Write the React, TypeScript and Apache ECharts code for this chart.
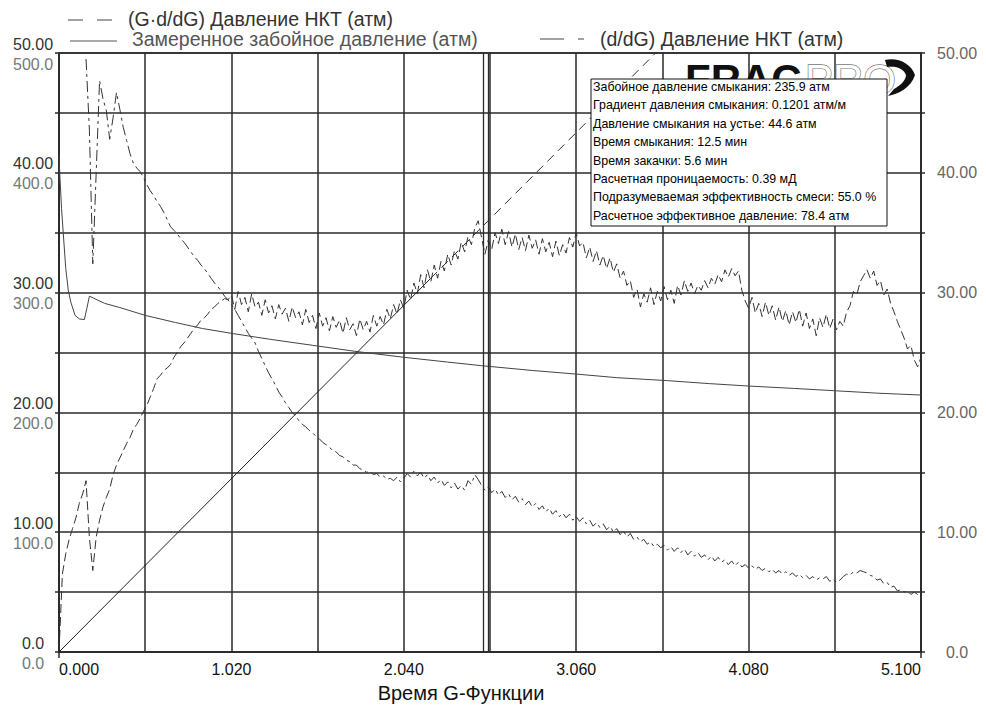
import React, { useEffect, useRef } from 'react';
import * as echarts from 'echarts';

const FONT = '"Liberation Sans", Arial, sans-serif';

// G-function grid step for the derivative curves
const G_STEP = 0.02;

// (G·d/dG) Давление НКТ, атм — one value per G_STEP starting at G = 0
const gTimesDerivative: number[] = [
  0, 6.5, 8.2, 9.4, 10.3, 11.2, 12.4, 13.2, 14.3, 9.5,
  6.8, 9.6, 11.0, 12.1, 12.9, 13.6, 14.8, 15.6, 16.2, 16.8,
  17.4, 17.9, 18.6, 19.0, 19.5, 20.1, 20.6, 21.3, 22.0, 22.8,
  23.1, 23.5, 23.7, 24.0, 24.6, 25.0, 25.5, 25.8, 26.2, 26.6,
  27.0, 27.3, 27.7, 27.9, 28.2, 28.6, 28.8, 29.1, 29.3, 29.5,
  29.4, 29.8, 28.6, 30.1, 29.0, 29.6, 28.4, 29.9, 28.8, 29.2,
  28.1, 29.4, 28.3, 28.9, 27.8, 29.0, 28.2, 28.7, 27.6, 28.8,
  27.9, 28.4, 27.3, 28.6, 27.5, 28.1, 27.0, 28.3, 27.2, 27.9,
  26.8, 28.0, 27.1, 27.7, 26.6, 27.9, 26.9, 27.4, 26.4, 27.8,
  26.9, 27.6, 26.7, 28.1, 27.2, 28.0, 27.3, 28.6, 27.8, 29.0,
  28.2, 29.4, 28.7, 30.2, 29.4, 30.8, 29.9, 31.5, 30.4, 31.9,
  30.9, 32.3, 31.2, 32.6, 31.8, 33.2, 32.3, 33.5, 32.8, 34.2,
  33.4, 34.7, 34.0, 35.4, 36.0, 34.6, 33.2, 34.4, 33.6, 35.0,
  34.1, 35.3, 34.0, 35.1, 33.8, 34.9, 33.6, 34.6, 33.5, 34.8,
  33.7, 34.4, 33.2, 34.5, 33.4, 34.2, 33.0, 34.3, 33.1, 34.0,
  33.3, 34.6, 33.8, 35.0, 33.9, 34.2, 32.9, 33.8, 32.6, 33.5,
  32.3, 33.1, 32.0, 32.9, 31.7, 32.4, 31.2, 31.8, 30.6, 31.0,
  29.6, 30.3, 28.8, 29.9, 29.2, 30.4, 29.0, 30.1, 29.3, 30.5,
  29.4, 30.2, 29.1, 30.6, 29.8, 31.0, 30.1, 30.8, 29.9, 30.6,
  30.2, 31.0, 30.4, 31.2, 30.7, 31.5, 30.9, 31.9, 31.3, 32.0,
  31.4, 31.8, 30.2, 29.3, 28.7, 29.6, 28.3, 29.1, 28.0, 29.2,
  28.1, 28.9, 27.7, 28.8, 27.6, 28.5, 27.3, 28.4, 27.5, 28.6,
  27.2, 28.3, 27.0, 27.8, 26.4, 27.9, 27.1, 28.2, 27.0, 27.8,
  26.9, 27.6, 27.2, 28.4, 28.9, 30.1, 29.8, 30.9, 31.4, 31.9,
  31.2, 31.8, 30.6, 31.0, 29.8, 30.3, 29.1, 28.4, 27.6, 26.9,
  26.2, 25.3, 25.6, 24.4, 23.8, 24.6,
];

// (d/dG) Давление НКТ, атм — same G grid, no data before G = 0.16
const derivative: (number | null)[] = [
  null, null, null, null, null, null, null, null, 49.5, 43.5,
  32.4, 40.0, 47.7, 46.2, 45.2, 42.8, 44.6, 46.7, 45.3, 43.8,
  42.7, 41.6, 40.8, 40.4, 40.1, 39.6, 39.0, 38.5, 38.1, 37.6,
  37.2, 36.7, 36.1, 35.5, 35.2, 34.9, 34.5, 34.2, 33.8, 33.4,
  33.0, 32.7, 32.3, 32.0, 31.6, 31.2, 30.8, 30.5, 30.1, 29.7,
  29.4, 29.0, 28.6, 28.1, 27.6, 27.1, 26.6, 26.2, 25.8, 25.1,
  24.5, 23.9, 23.3, 22.8, 22.3, 21.7, 21.3, 20.8, 20.4, 20.0,
  19.7, 19.3, 19.0, 18.8, 18.5, 18.3, 18.0, 17.8, 17.5, 17.3,
  17.1, 16.8, 16.7, 16.4, 16.3, 16.0, 15.9, 15.6, 15.6, 15.3,
  15.2, 15.0, 15.1, 14.8, 14.9, 14.6, 14.7, 14.4, 14.5, 14.3,
  14.6, 14.2, 14.5, 14.9, 14.6, 15.1, 14.7, 15.0, 14.5, 14.8,
  14.3, 14.6, 14.1, 14.4, 13.9, 14.2, 13.7, 14.1, 13.6, 13.9,
  13.5, 14.3, 14.0, 14.8, 14.4, 13.9, 13.5, 13.8, 13.3, 13.6,
  13.1, 13.4, 12.9, 13.2, 12.7, 13.0, 12.5, 12.8, 12.3, 12.6,
  12.1, 12.4, 11.9, 12.2, 11.7, 12.0, 11.5, 11.8, 11.3, 11.6,
  11.2, 11.5, 11.0, 11.3, 10.9, 11.2, 10.7, 11.0, 10.5, 10.8,
  10.4, 10.7, 10.2, 10.5, 10.0, 10.3, 9.8, 10.1, 9.6, 9.9,
  9.4, 9.6, 9.2, 9.4, 9.0, 9.2, 8.8, 9.0, 8.7, 8.9,
  8.5, 8.8, 8.4, 8.7, 8.3, 8.6, 8.1, 8.4, 8.0, 8.3,
  7.9, 8.1, 7.7, 8.0, 7.6, 7.9, 7.5, 7.7, 7.3, 7.6,
  7.2, 7.5, 7.1, 7.3, 7.0, 7.2, 6.9, 7.1, 6.8, 7.0,
  6.7, 6.9, 6.6, 6.8, 6.5, 6.7, 6.4, 6.6, 6.3, 6.5,
  6.2, 6.4, 6.1, 6.3, 6.0, 6.2, 6.1, 6.3, 5.9, 6.1,
  5.8, 6.0, 6.3, 6.5, 6.4, 6.7, 6.6, 6.8, 6.7, 6.6,
  6.4, 6.3, 6.0, 6.1, 5.7, 5.8, 5.4, 5.5, 5.1, 5.2,
  5.0, 5.1, 4.8, 5.0, 4.8, 4.9,
];

// Замеренное забойное давление, атм: [G, P]
const bottomholePressure: [number, number][] = [
  [0, 415], [0.005, 398], [0.015, 370], [0.025, 350], [0.04, 320],
  [0.055, 302], [0.07, 292], [0.095, 281], [0.12, 278], [0.15, 277.5],
  [0.165, 287], [0.18, 297], [0.27, 291], [0.36, 287.5], [0.51, 281],
  [0.69, 275], [0.85, 270], [1.02, 266], [1.25, 261], [1.5, 256],
  [1.75, 251], [2.04, 246], [2.3, 242], [2.5, 239], [2.8, 235],
  [3.06, 232], [3.3, 229], [3.6, 226.5], [3.85, 224], [4.08, 222],
  [4.35, 220], [4.6, 218], [4.85, 216], [5.1, 214.5],
];

// straight line through the origin for the G·dP/dG curve
const tangentSolid: [number, number][] = [[0, 0], [2.2, 31.2]];
const tangentDashed: [number, number][] = [[2.2, 31.2], [3.53, 50]];

// closure markers on the G axis
const closureMarks = [2.51, 2.545];

const legendLabels = [
  '(G·d/dG) Давление НКТ (атм)',
  'Замеренное забойное давление (атм)',
  '(d/dG) Давление НКТ (атм)',
];

const xAxisTitle = 'Время G-Функции';

const infoLines = [
  'Забойное давление смыкания: 235.9 атм',
  'Градиент давления смыкания: 0.1201 атм/м',
  'Давление смыкания на устье: 44.6 атм',
  'Время смыкания: 12.5 мин',
  'Время закачки: 5.6 мин',
  'Расчетная проницаемость: 0.39 мД',
  'Подразумеваемая эффективность смеси: 55.0 %',
  'Расчетное эффективное давление: 78.4 атм',
];

const X_MIN = 0;
const X_MAX = 5.1;
const X_STEP = 0.51;

const SWOOSH_D =
  'M0 3 C12 0 26 6 30 18 C26 31 13 37 3 39 L9 32 C16 28 21 23 21 18 C19 12 11 8 2 10 Z';

echarts.graphic.registerShape('swoosh', echarts.graphic.extendPath(SWOOSH_D, {}));

const gridColor = '#2a2a2a';
const LEGEND_FONT = `19.5px ${FONT}`;

function buildOption(): echarts.EChartsOption {
  const toPairs = (arr: (number | null)[]) =>
    arr.map((v, i) => [Number((i * G_STEP).toFixed(2)), v]);

  const infoTop = 79;
  const infoLeft = 591;
  const lineH = 18.4;

  const graphic: any[] = [
    // legend
    {
      type: 'line',
      shape: { x1: 68, y1: 20, x2: 113, y2: 20 },
      style: { stroke: '#444', lineWidth: 1.2, lineDash: [15, 14] },
    },
    {
      type: 'text',
      x: 128,
      y: 19,
      style: { text: legendLabels[0], fill: '#333', font: LEGEND_FONT, verticalAlign: 'middle' },
    },
    {
      type: 'line',
      shape: { x1: 70, y1: 41, x2: 117, y2: 41 },
      style: { stroke: '#555', lineWidth: 1.2 },
    },
    {
      type: 'text',
      x: 132,
      y: 39,
      style: { text: legendLabels[1], fill: '#555', font: LEGEND_FONT, verticalAlign: 'middle' },
    },
    {
      type: 'line',
      shape: { x1: 540, y1: 39, x2: 584, y2: 39 },
      style: { stroke: '#444', lineWidth: 1.2, lineDash: [24, 14, 6, 100] },
    },
    {
      type: 'text',
      x: 600,
      y: 39,
      style: { text: legendLabels[2], fill: '#333', font: LEGEND_FONT, verticalAlign: 'middle' },
    },
    // axis title
    {
      type: 'text',
      x: 461,
      y: 693,
      style: {
        text: xAxisTitle,
        fill: '#111',
        font: `20px ${FONT}`,
        align: 'center',
        verticalAlign: 'middle',
      },
    },
    // axis line extensions below the frame
    { type: 'line', shape: { x1: 59, y1: 652, x2: 59, y2: 658 }, style: { stroke: gridColor, lineWidth: 1.5 } },
    { type: 'line', shape: { x1: 921, y1: 652, x2: 921, y2: 658 }, style: { stroke: gridColor, lineWidth: 1.5 } },
    // logo
    {
      type: 'text',
      x: 685,
      y: 58,
      z: 20,
      style: { text: 'FRAC', fill: '#111', font: `bold 42px ${FONT}`, verticalAlign: 'top' },
    },
    {
      type: 'text',
      x: 805,
      y: 58,
      z: 20,
      style: {
        text: 'PRO',
        fill: '#fff',
        stroke: '#777',
        lineWidth: 1.3,
        font: `42px ${FONT}`,
        verticalAlign: 'top',
      },
    },
    { type: 'circle', z: 20, shape: { cx: 892, cy: 64, r: 2.5 }, style: { fill: '#222' } },
    {
      type: 'swoosh',
      x: 885,
      y: 57,
      z: 20,
      scaleX: 1,
      scaleY: 1,
      style: { fill: '#111' },
    },
    // info box
    {
      type: 'rect',
      z: 30,
      shape: { x: infoLeft, y: infoTop, width: 296, height: 147 },
      style: { fill: '#fff', stroke: '#111', lineWidth: 1 },
    },
    ...infoLines.map((t, i) => ({
      type: 'text',
      z: 31,
      x: infoLeft + 2,
      y: infoTop + 8 + i * lineH,
      style: { text: t, fill: '#000', font: `12.4px ${FONT}`, verticalAlign: 'middle' },
    })),
  ];

  const leftLabel = (v: number) => {
    const r = Math.round(v);
    if (r % 10 !== 0) return '';
    return r === 0 ? '0.0' : r.toFixed(2);
  };

  return {
    animation: false,
    backgroundColor: '#fff',
    textStyle: { fontFamily: FONT },
    grid: {
      left: 59,
      right: 65,
      top: 53,
      bottom: 59,
      show: true,
      borderColor: gridColor,
      borderWidth: 1.5,
      backgroundColor: 'transparent',
      containLabel: false,
      outerBoundsMode: 'none',
    } as any,
    xAxis: {
      type: 'value',
      min: X_MIN,
      max: X_MAX,
      interval: X_STEP,
      axisLine: { show: true, lineStyle: { color: gridColor, width: 1.5 } },
      axisTick: { show: false },
      splitLine: { show: true, lineStyle: { color: gridColor, width: 1.5 } },
      axisLabel: {
        color: '#111',
        fontSize: 16,
        fontFamily: FONT,
        margin: 9,
        showMinLabel: true,
        showMaxLabel: true,
        alignMinLabel: 'left',
        alignMaxLabel: 'right',
        formatter: (v: number) => {
          const k = Math.round(v / X_STEP);
          return k % 2 === 0 ? (k * X_STEP).toFixed(3) : '';
        },
      } as any,
    },
    yAxis: [
      {
        type: 'value',
        position: 'left',
        min: 0,
        max: 50,
        interval: 5,
        axisLine: { show: true, lineStyle: { color: gridColor, width: 1.5 } },
        axisTick: { show: true, length: 4, lineStyle: { color: gridColor, width: 1.5 } },
        splitLine: { show: true, lineStyle: { color: gridColor, width: 1.5 } },
        axisLabel: {
          color: '#333',
          fontSize: 16,
          fontFamily: FONT,
          align: 'center',
          verticalAlign: 'bottom',
          margin: 26,
          padding: [0, 0, 1, 0],
          formatter: leftLabel,
        },
      },
      {
        type: 'value',
        position: 'left',
        min: 0,
        max: 500,
        interval: 50,
        axisLine: { show: false },
        axisTick: { show: false },
        splitLine: { show: false },
        axisLabel: {
          color: '#777',
          fontSize: 16,
          fontFamily: FONT,
          align: 'center',
          verticalAlign: 'top',
          margin: 26,
          padding: [3, 0, 0, 0],
          formatter: (v: number) => {
            const r = Math.round(v);
            return r % 100 === 0 ? r.toFixed(1) : '';
          },
        },
      },
      {
        type: 'value',
        position: 'right',
        min: 0,
        max: 50,
        interval: 5,
        axisLine: { show: true, lineStyle: { color: gridColor, width: 1.5 } },
        axisTick: { show: true, length: 4, lineStyle: { color: gridColor, width: 1.5 } },
        splitLine: { show: false },
        axisLabel: {
          color: '#666',
          fontSize: 16,
          fontFamily: FONT,
          align: 'center',
          verticalAlign: 'middle',
          margin: 36,
          formatter: leftLabel,
        },
      },
    ],
    series: [
      {
        name: legendLabels[1],
        type: 'line',
        yAxisIndex: 1,
        data: bottomholePressure,
        showSymbol: false,
        silent: true,
        lineStyle: { color: '#444', width: 1 },
      },
      {
        name: legendLabels[0],
        type: 'line',
        yAxisIndex: 0,
        data: toPairs(gTimesDerivative),
        showSymbol: false,
        silent: true,
        lineStyle: { color: '#333', width: 1, type: [9, 4] },
        markLine: {
          silent: true,
          symbol: 'none',
          label: { show: false },
          lineStyle: { color: gridColor, width: 1.3, type: 'solid' },
          data: closureMarks.map((g) => ({ xAxis: g })),
        },
      },
      {
        name: legendLabels[2],
        type: 'line',
        yAxisIndex: 0,
        data: toPairs(derivative),
        showSymbol: false,
        silent: true,
        connectNulls: false,
        lineStyle: { color: '#333', width: 1, type: [11, 4, 3, 4] },
      },
      {
        type: 'line',
        yAxisIndex: 0,
        data: tangentSolid,
        showSymbol: false,
        silent: true,
        lineStyle: { color: '#222', width: 1 },
      },
      {
        type: 'line',
        yAxisIndex: 0,
        data: tangentDashed,
        showSymbol: false,
        silent: true,
        lineStyle: { color: '#333', width: 1, type: [9, 6] },
      },
    ],
    graphic,
  } as echarts.EChartsOption;
}

export default function App() {
  const ref = useRef<HTMLDivElement>(null);

  useEffect(() => {
    if (!ref.current) return;
    const chart = echarts.init(ref.current, undefined, { renderer: 'svg' });
    chart.setOption(buildOption());
    return () => chart.dispose();
  }, []);

  return (
    <div
      ref={ref}
      style={{ position: 'absolute', left: 0, top: 0, width: 986, height: 711, background: '#fff' }}
    />
  );
}
